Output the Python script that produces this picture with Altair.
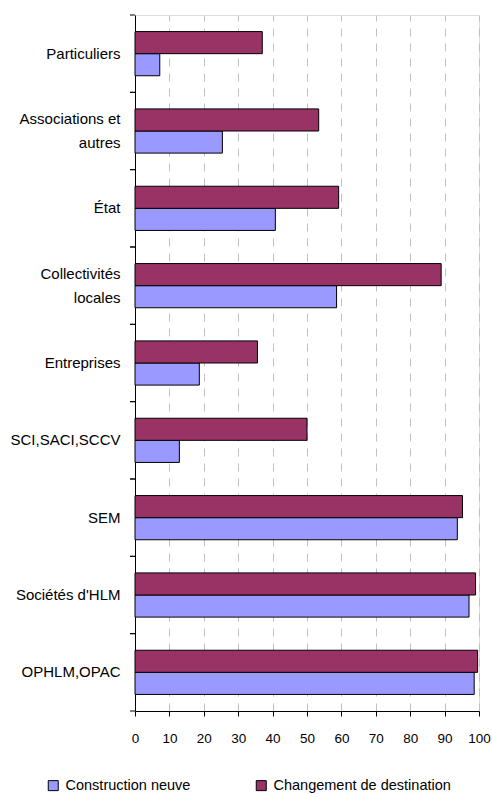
import altair as alt
import pandas as pd

# Categories (a "|" marks a line break in the axis label)
categories = [
    "Particuliers",
    "Associations et|autres",
    "État",
    "Collectivités|locales",
    "Entreprises",
    "SCI,SACI,SCCV",
    "SEM",
    "Sociétés d'HLM",
    "OPHLM,OPAC",
]
series_names = ["Construction neuve", "Changement de destination"]
construction_neuve = [7.2, 25.4, 40.8, 58.6, 18.7, 12.9, 93.7, 97.1, 98.6]
changement_destination = [37.0, 53.4, 59.2, 89.0, 35.6, 50.0, 95.2, 99.0, 99.6]
x_ticks = list(range(0, 101, 10))

rows = []
for cat, a, b in zip(categories, construction_neuve, changement_destination):
    rows.append({"cat": cat, "serie": series_names[0], "val": a})
    rows.append({"cat": cat, "serie": series_names[1], "val": b})
df = pd.DataFrame(rows)
cat_df = pd.DataFrame({"cat": categories})

FONT = "Liberation Sans"

y_scale = alt.Scale(paddingInner=0, paddingOuter=0)
y_axis = alt.Axis(
    title=None,
    ticks=False,
    labelExpr="split(datum.value, '|')",
    labelLineHeight=24,
    labelOffset={
        "condition": {
            "test": "indexof(datum.value, '|') >= 0",
            "value": -12,
        },
        "value": 0,
    },
    domainColor="black",
    labelPadding=15,
    labelFont=FONT,
    labelFontSize=15,
    labelColor="black",
    labelLimit=200,
)

bars = (
    alt.Chart(df)
    .mark_bar(stroke="black", strokeWidth=1)
    .encode(
        x=alt.X(
            "val:Q",
            scale=alt.Scale(domain=[0, 100], nice=False),
            axis=alt.Axis(
                title=None,
                values=x_ticks,
                format="d",
                grid=True,
                gridColor="#c0c0c0",
                gridDash=[8, 7],
                gridWidth=1,
                domainColor="black",
                tickColor="black",
                tickSize=5,
                labelFlush=False,
                labelPadding=15,
                labelFont=FONT,
                labelFontSize=13.5,
                labelColor="black",
            ),
        ),
        y=alt.Y("cat:N", sort=categories, scale=y_scale, axis=y_axis),
        yOffset=alt.YOffset(
            "serie:N",
            sort=[series_names[1], series_names[0]],
            scale=alt.Scale(paddingInner=0, paddingOuter=0.75),
        ),
        color=alt.Color(
            "serie:N",
            scale=alt.Scale(domain=series_names, range=["#9999FF", "#993366"]),
            legend=alt.Legend(
                title=None,
                orient="none",
                direction="horizontal",
                legendX=-89,
                legendY=763,
                symbolType="square",
                symbolSize=100,
                symbolStrokeColor="black",
                symbolStrokeWidth=1,
                symbolOpacity=1,
                labelFont=FONT,
                labelFontSize=14.5,
                labelColor="black",
                labelOffset=5,
                columnPadding=63,
                labelLimit=300,
            ),
        ),
    )
)

# Category-boundary ticks on the left axis (top edge of every band, plus bottom edge)
tick_top = (
    alt.Chart(cat_df)
    .mark_rule(color="black", strokeWidth=1)
    .encode(
        y=alt.Y("cat:N", sort=categories, scale=y_scale, bandPosition=0, axis=y_axis),
        x=alt.value(-5),
        x2=alt.value(0),
    )
)
tick_bottom = (
    alt.Chart(cat_df)
    .mark_rule(color="black", strokeWidth=1)
    .encode(
        y=alt.Y("cat:N", sort=categories, scale=y_scale, bandPosition=1, axis=y_axis),
        x=alt.value(-5),
        x2=alt.value(0),
    )
)

chart = (
    alt.layer(bars, tick_top, tick_bottom)
    .properties(
        width=344,
        height=696,
        autosize=alt.AutoSizeParams(type="none"),
        padding={"left": 135, "top": 15, "right": 13, "bottom": 83},
    )
    .configure_view(stroke="#808080", strokeWidth=1.5)
    .configure(background="white")
)

chart.save("out.html", embed_options={"renderer": "svg", "actions": False})
